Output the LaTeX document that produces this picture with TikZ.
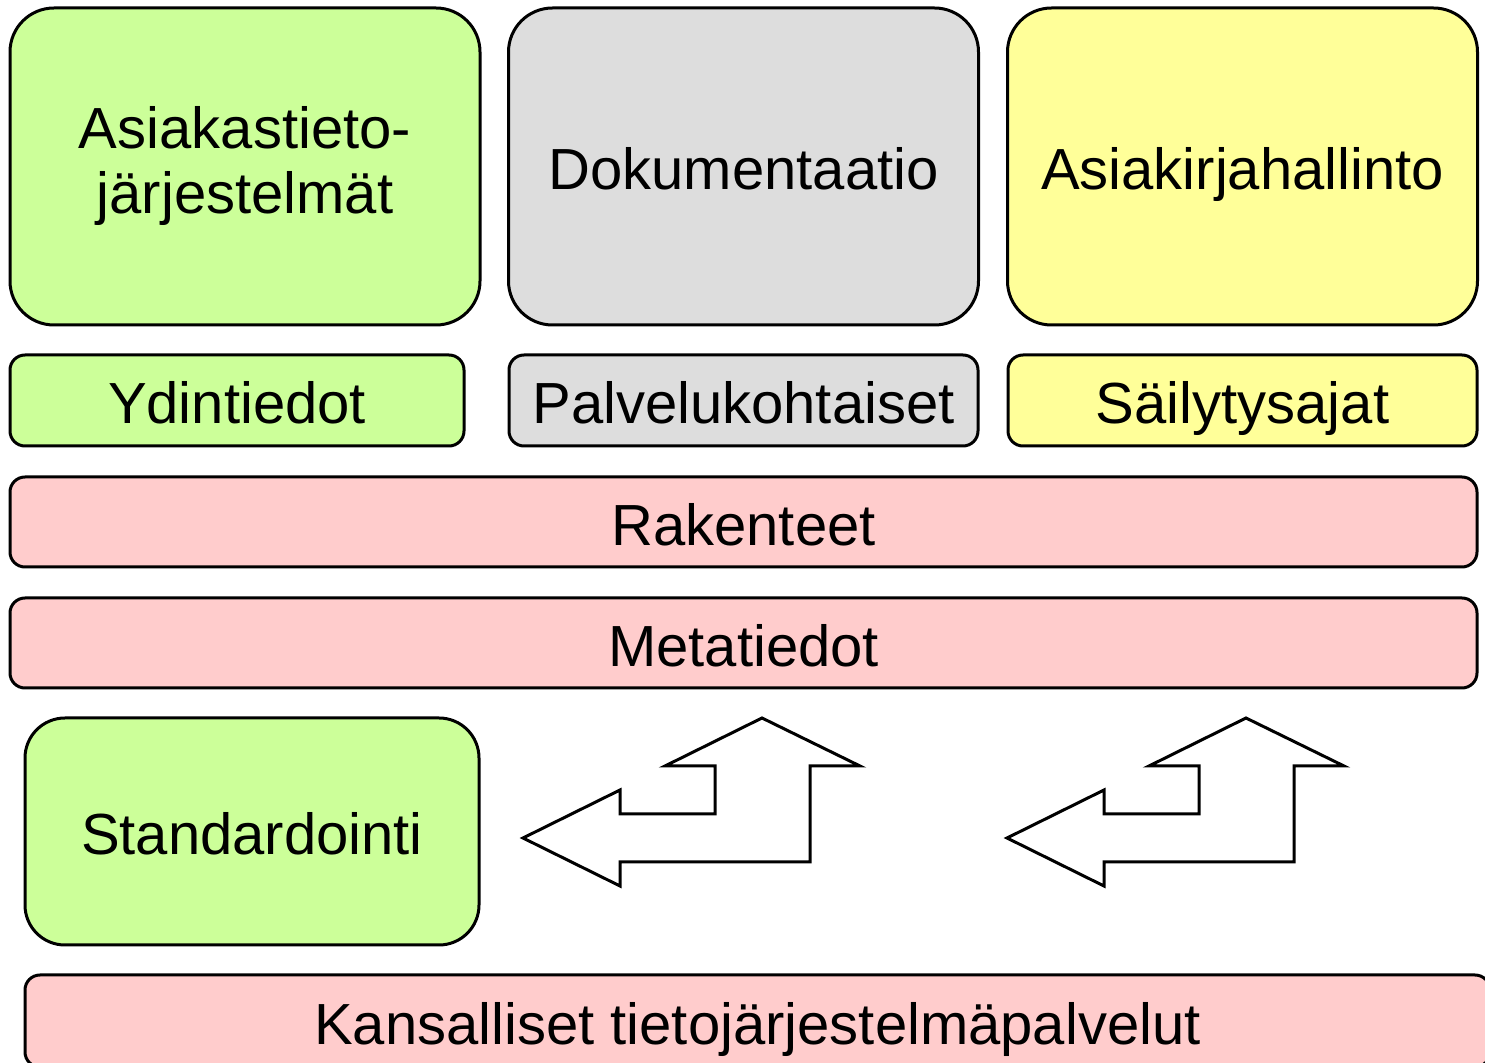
\documentclass[tikz,border=0pt]{standalone}
\usepackage{fontspec}
\setmainfont{Liberation Sans}
\usepackage{tikz}
\usetikzlibrary{positioning, calc}
\definecolor{boxgreen}{HTML}{CCFF99}
\definecolor{boxgray}{HTML}{DDDDDD}
\definecolor{boxyellow}{HTML}{FFFF99}
\definecolor{boxpink}{HTML}{FFCCCC}
\tikzset{
    block/.style={draw=black,line width=1.5pt,rectangle,inner sep=0,align=center,
        text height=23.5pt,text depth=0pt,font=\fontsize{29}{32.5}\selectfont},
    bigblock/.style={block,rounded corners=22pt,minimum width=235pt,minimum height=158.5pt},
    thinblock/.style={block,rounded corners=7.5pt,minimum height=45.5pt},
    blockarrow/.style={draw=black,line width=1.5pt,fill=white,line join=miter}
}

\begin{document}
\begin{tikzpicture}[x=0.5pt,y=-0.5pt]
    \useasboundingbox (0,0) rectangle (1485,1063);
    \begin{scope}
    \clip (0,0) rectangle (1485,1063);
    % top row
    \node[bigblock,fill=boxgreen,text height={},text depth={}] (asiakas) at (245,166.5) {Asiakastieto-\\järjestelmät};
    \node[bigblock,fill=boxgray] (dok) at (743.5,166.5) {Dokumentaatio};
    \node[bigblock,fill=boxyellow] (akh) at (1242.5,166.5) {Asiakirjahallinto};
    % second row
    \node[thinblock,fill=boxgreen,minimum width=227pt] (ydin) at (237,400.5) {Ydintiedot};
    \node[thinblock,fill=boxgray,minimum width=234.5pt] (palv) at (743.5,400.5) {Palvelukohtaiset};
    \node[thinblock,fill=boxyellow,minimum width=234.5pt] (sail) at (1242.5,400.5) {Säilytysajat};
    % wide layers
    \node[thinblock,fill=boxpink,minimum width=733.5pt,minimum height=45pt] (rak) at (743.5,522) {Rakenteet};
    \node[thinblock,fill=boxpink,minimum width=733.5pt,minimum height=45pt] (meta) at (743.5,643) {Metatiedot};
    \node[block,fill=boxgreen,rounded corners=20pt,minimum width=227pt,minimum height=113.5pt] (stand) at (252,831.5) {Standardointi};
    \node[thinblock,fill=boxpink,minimum width=732.5pt,minimum height=46pt] (kans) at (757.5,1021) {Kansalliset tietojärjestelmäpalvelut};
    % arrows
    \foreach \dx in {0,484}
        \draw[blockarrow,xshift=\dx*0.5pt]
            (523,838) -- (620,790) -- (620,814) -- (715,814) -- (715,766) -- (665,766)
            -- (762,718) -- (860,766) -- (810,766) -- (810,862) -- (620,862) -- (620,886) -- cycle;
    \end{scope}
\end{tikzpicture}
\end{document}
